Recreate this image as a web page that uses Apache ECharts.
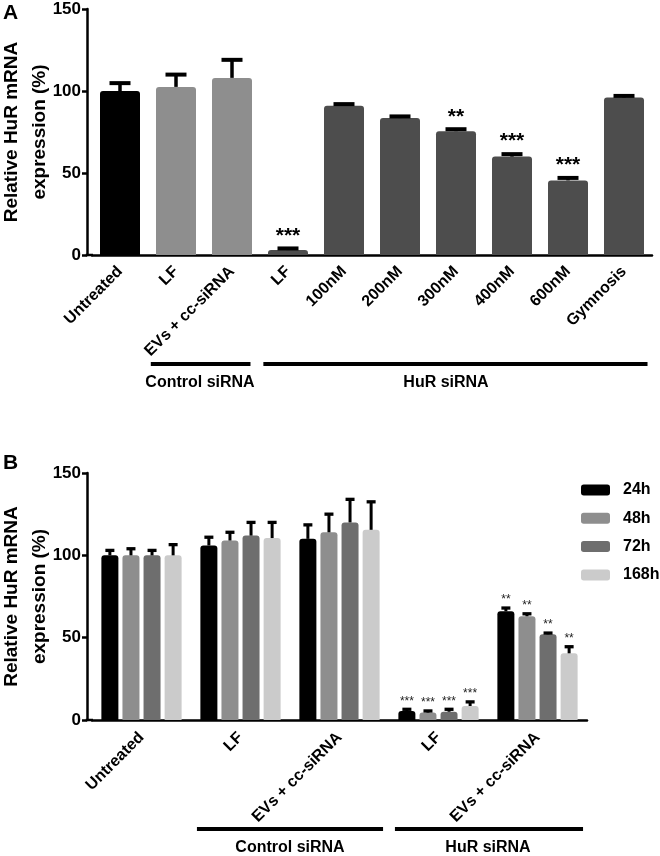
<!DOCTYPE html>
<html><head><meta charset="utf-8">
<script src="https://cdn.jsdelivr.net/npm/echarts/dist/echarts.min.js"></script>
<style>html,body{margin:0;padding:0;background:#fff}#c{width:660px;height:856px}</style>
</head><body><div id="c"></div>
<script>
// ---- Panel A data ----
const topCategories = ['Untreated', 'LF', 'EVs + cc-siRNA', 'LF', '100nM', '200nM', '300nM', '400nM', '600nM', 'Gymnosis'];
const topGroups = ['untreated', 'control', 'control', 'hur', 'hur', 'hur', 'hur', 'hur', 'hur', 'hur'];
const topValues = [100, 102.5, 108, 3, 91, 83.5, 75.5, 60, 45.5, 96];
const topErrors = [4.8, 7.5, 11, 1, 1, 1, 1.2, 1.5, 1.5, 1];
const topStars = ['', '', '', '***', '', '', '**', '***', '***', ''];

// ---- Panel B data ----
const bottomCategories = ['Untreated', 'LF', 'EVs + cc-siRNA', 'LF', 'EVs + cc-siRNA'];
const seriesNames = ['24h', '48h', '72h', '168h'];
const v24 = [100, 106, 110, 5.5, 66];
const v48 = [100, 109, 114, 4.5, 63];
const v72 = [100, 112, 120, 5, 52];
const v168 = [100, 110.5, 115.5, 8.5, 40.5];
const e24 = [3, 5, 8.5, 1, 2];
const e48 = [4, 5, 11, 1, 1.5];
const e72 = [3, 8, 14, 1.5, 0.8];
const e168 = [6.5, 9.5, 17, 2.5, 4];
const s24 = ['', '', '', '***', '**'];
const s48 = ['', '', '', '***', '**'];
const s72 = ['', '', '', '***', '**'];
const s168 = ['', '', '', '***', '**'];

const yTicks = [0, 50, 100, 150];
const groupLabels = ['Control siRNA', 'HuR siRNA'];

// ---- styles ----
const FONT = 'Liberation Sans, Arial, Helvetica, sans-serif';
const topColors = { untreated: '#000000', control: '#8e8e8e', hur: '#4d4d4d' };
const bottomColors = ['#000000', '#8e8e8e', '#6e6e6e', '#cbcbcb'];
const bottomVals = [v24, v48, v72, v168];
const bottomErrs = [e24, e48, e72, e168];
const bottomStars = [s24, s48, s72, s168];
const BW = 17, BGAP = 0.24;
const AXW = 2.5;
const Y_OFFSET = 5;

function yAxisCfg(gi) {
  return {
    gridIndex: gi, type: 'value', min: yTicks[0], max: yTicks[yTicks.length - 1], interval: 50, offset: Y_OFFSET,
    splitLine: { show: false },
    axisLine: { show: true, lineStyle: { color: '#000', width: AXW } },
    axisTick: { show: true, length: 5, lineStyle: { color: '#000', width: AXW } },
    axisLabel: { margin: 6, color: '#000', fontSize: 17, fontWeight: 'bold', fontFamily: FONT },
    name: 'Relative HuR mRNA\nexpression (%)', nameLocation: 'middle', nameGap: 33, nameMoveOverlap: false,
    nameTextStyle: { fontSize: 19, fontWeight: 'bold', lineHeight: 28, color: '#000', fontFamily: FONT }
  };
}
function xAxisCfg(gi, cats, margin) {
  return {
    gridIndex: gi, type: 'category', data: cats,
    axisLine: { lineStyle: { color: '#000', width: AXW } },
    axisTick: { alignWithLabel: true, length: 6, lineStyle: { color: '#000', width: AXW } },
    axisLabel: { rotate: 45, interval: 0, margin: margin, color: '#000', fontSize: 16, fontWeight: 'bold', fontFamily: FONT }
  };
}
function cornerFill(params) {
  const cs = params.coordSys;
  return { type: 'line', shape: { x1: cs.x - Y_OFFSET - AXW / 2, y1: cs.y + cs.height, x2: cs.x + 1, y2: cs.y + cs.height }, style: { stroke: '#000', lineWidth: AXW } };
}

function topErrRender(params, api) {
  const x = api.value(0), v = api.value(1), e = api.value(2);
  const p0 = api.coord([x, v]), p1 = api.coord([x, v + e]);
  const children = [
    { type: 'line', shape: { x1: p0[0], y1: p0[1], x2: p1[0], y2: p1[1] }, style: { stroke: '#000', lineWidth: 3.5 } },
    { type: 'line', shape: { x1: p1[0] - 10.5, y1: p1[1], x2: p1[0] + 10.5, y2: p1[1] }, style: { stroke: '#000', lineWidth: 4 } }
  ];
  const s = topStars[params.dataIndex];
  if (s) children.push({ type: 'text', style: { text: s, x: p1[0], y: p1[1] - 2, align: 'center', verticalAlign: 'bottom', font: 'bold 21px ' + FONT, fill: '#000' } });
  if (params.dataIndex === 0) children.push(cornerFill(params));
  return { type: 'group', children };
}
function bottomErrRender(params, api) {
  const x = api.value(0), v = api.value(1), e = api.value(2), si = api.value(3);
  const off = (si - 1.5) * (BW * (1 + BGAP));
  const p0 = api.coord([x, v]), p1 = api.coord([x, v + e]);
  const cx = p0[0] + off;
  const children = [
    { type: 'line', shape: { x1: cx, y1: p0[1], x2: cx, y2: p1[1] }, style: { stroke: '#000', lineWidth: 3 } },
    { type: 'line', shape: { x1: cx - 4.5, y1: p1[1], x2: cx + 4.5, y2: p1[1] }, style: { stroke: '#000', lineWidth: 3.3 } }
  ];
  const s = bottomStars[si][x];
  if (s) children.push({ type: 'text', style: { text: s, x: cx, y: p1[1] - 2, align: 'center', verticalAlign: 'bottom', font: '12px ' + FONT, fill: '#222' } });
  if (params.dataIndex === 0) children.push(cornerFill(params));
  return { type: 'group', children };
}

const bottomErrData = [];
bottomVals.forEach((arr, si) => arr.forEach((v, ci) => bottomErrData.push([ci, v, bottomErrs[si][ci], si])));

const option = {
  animation: false,
  backgroundColor: '#fff',
  grid: [
    { left: 92, width: 560, top: 9, height: 246, outerBoundsMode: 'none', containLabel: false },
    { left: 92, width: 495, top: 473, height: 247, outerBoundsMode: 'none', containLabel: false }
  ],
  xAxis: [xAxisCfg(0, topCategories, 14), xAxisCfg(1, bottomCategories, 15)],
  yAxis: [yAxisCfg(0), yAxisCfg(1)],
  legend: {
    data: seriesNames, orient: 'vertical', left: 581, top: 482, padding: 0, itemWidth: 29, itemHeight: 11, itemGap: 12.3,
    icon: 'roundRect', selectedMode: false,
    textStyle: { fontSize: 16, fontWeight: 'bold', color: '#000', fontFamily: FONT, padding: [0, 0, 0, 8] }
  },
  series: [
    {
      type: 'bar', xAxisIndex: 0, yAxisIndex: 0, barWidth: 40,
      itemStyle: { borderRadius: [3, 3, 0, 0] },
      data: topValues.map((v, i) => ({ value: v, itemStyle: { color: topColors[topGroups[i]] } }))
    },
    {
      type: 'custom', xAxisIndex: 0, yAxisIndex: 0, z: 5, clip: false,
      data: topValues.map((v, i) => [i, v, topErrors[i]]), renderItem: topErrRender
    },
    ...seriesNames.map((n, si) => ({
      name: n, type: 'bar', xAxisIndex: 1, yAxisIndex: 1, barWidth: BW, barGap: (BGAP * 100) + '%',
      itemStyle: { color: bottomColors[si], borderRadius: [3, 3, 0, 0] },
      data: bottomVals[si]
    })),
    {
      type: 'custom', xAxisIndex: 1, yAxisIndex: 1, z: 5, clip: false,
      data: bottomErrData, renderItem: bottomErrRender
    }
  ]
};

const chart = echarts.init(document.getElementById('c'), null, { renderer: 'canvas' });
chart.setOption(option);

// group annotations below the axes
const px = (ai, i) => chart.convertToPixel({ xAxisIndex: ai }, i);
const wTop = px(0, 1) - px(0, 0), wBot = px(1, 1) - px(1, 0);
function bracket(x1, x2, y, label, tx) {
  return [
    { type: 'line', shape: { x1, y1: y, x2, y2: y }, style: { stroke: '#000', lineWidth: 4 } },
    { type: 'text', style: { text: label, x: tx, y: y + 19, align: 'center', verticalAlign: 'middle', font: 'bold 16px ' + FONT, fill: '#000' } }
  ];
}
const g = [
  { type: 'text', style: { text: 'A', x: 3, y: 3, font: 'bold 21px ' + FONT, fill: '#000' } },
  { type: 'text', style: { text: 'B', x: 3, y: 453, font: 'bold 21px ' + FONT, fill: '#000' } },
  ...bracket(px(0, 1) - 0.45 * wTop, px(0, 2) + 0.33 * wTop, 364, groupLabels[0], (px(0, 1) + px(0, 2)) / 2 - 4),
  ...bracket(px(0, 3) - 0.44 * wTop, px(0, 9) + 0.42 * wTop, 364, groupLabels[1], (px(0, 3) + px(0, 9)) / 2 - 10),
  ...bracket(px(1, 1) - 0.44 * wBot, px(1, 2) + 0.44 * wBot, 829, groupLabels[0], (px(1, 1) + px(1, 2)) / 2),
  ...bracket(px(1, 3) - 0.44 * wBot, px(1, 4) + 0.46 * wBot, 829, groupLabels[1], (px(1, 3) + px(1, 4)) / 2)
];
chart.setOption({ graphic: g });
</script></body></html>
